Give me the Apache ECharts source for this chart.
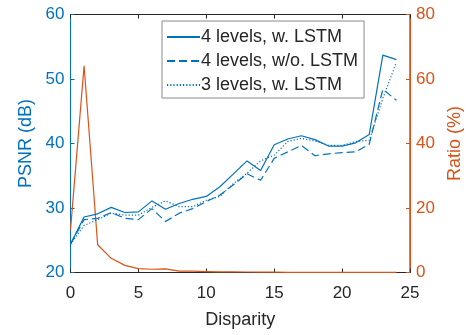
<!DOCTYPE html>
<html>
<head>
<meta charset="utf-8">
<script src="https://cdn.jsdelivr.net/npm/echarts@6/dist/echarts.min.js"></script>
<style>
  html, body { margin: 0; padding: 0; background: #fff; }
  #chart { width: 473px; height: 335px; }
</style>
</head>
<body>
<div id="chart"></div>
<script>
const disparity = [0, 1, 2, 3, 4, 5, 6, 7, 8, 9, 10, 11, 12, 13, 14, 15, 16, 17, 18, 19, 20, 21, 22, 23, 24];

const psnr4Lstm = [24.4, 28.6, 29.1, 30.1, 29.3, 29.4, 31.1, 29.8, 30.7, 31.35, 31.8, 33.3, 35.3, 37.3, 35.8, 39.8, 40.7, 41.2, 40.6, 39.6, 39.6, 40.1, 41.4, 53.7, 53.0];
const psnr4NoLstm = [24.4, 28.2, 28.4, 29.3, 28.4, 28.2, 29.9, 27.9, 29.2, 29.9, 31.0, 32.0, 33.6, 35.3, 34.3, 37.7, 38.7, 39.7, 38.1, 38.4, 38.6, 38.7, 39.9, 48.4, 46.7];
const psnr3Lstm = [24.4, 27.3, 28.2, 29.2, 28.9, 28.9, 30.1, 31.1, 30.2, 30.2, 31.2, 31.8, 33.8, 35.4, 37.3, 38.2, 40.3, 40.8, 40.4, 39.7, 39.7, 40.3, 40.5, 47.0, 52.6];
const ratio = [13.2, 64.1, 8.6, 4.4, 2.2, 1.2, 1.0, 1.1, 0.4, 0.4, 0.3, 0.2, 0.2, 0.15, 0.1, 0.1, 0.05, 0.05, 0.05, 0.05, 0.04, 0.03, 0.03, 0.02, 0.02];

const xTicks = [0, 5, 10, 15, 20, 25];
const psnrTicks = [20, 30, 40, 50, 60];
const ratioTicks = [0, 20, 40, 60, 80];

const blue = "#0072BD";
const orange = "#D95319";
const dark = "#262626";
const font = "'Liberation Sans', Arial, sans-serif";

const pairs = (ys) => disparity.map((d, i) => [d, ys[i]]);

const chart = echarts.init(document.getElementById("chart"));

const option = {
  animation: false,
  textStyle: { fontFamily: font },
  grid: {
    left: 70.5,
    right: 63,
    top: 14.5,
    bottom: 62.5,
    show: true,
    borderColor: dark,
    borderWidth: 1,
  },
  legend: {
    orient: "vertical",
    left: 162,
    top: 21,
    padding: [7, 6, 4, 4],
    itemGap: 6,
    itemWidth: 33,
    itemHeight: 16,
    backgroundColor: "#fff",
    borderColor: "#8a8a8a",
    borderWidth: 1,
    itemStyle: { opacity: 0 },
    textStyle: { fontSize: 18, color: dark, fontFamily: font, padding: [0, 0, 0, -4] },
    data: ["4 levels, w. LSTM", "4 levels, w/o. LSTM", "3 levels, w. LSTM"],
  },
  xAxis: [
    {
      type: "value",
      min: xTicks[0],
      max: xTicks[xTicks.length - 1],
      interval: 5,
      name: "Disparity",
      nameLocation: "middle",
      nameGap: 39,
      nameTextStyle: { fontSize: 18, color: dark },
      axisLine: { onZero: false, lineStyle: { color: dark, width: 1 } },
      axisTick: { inside: true, length: 4, lineStyle: { color: dark } },
      axisLabel: { fontSize: 17, color: dark, margin: 12 },
      splitLine: { show: false },
    },
    {
      type: "value",
      position: "top",
      min: xTicks[0],
      max: xTicks[xTicks.length - 1],
      interval: 5,
      axisLine: { show: true, onZero: false, lineStyle: { color: dark, width: 1 } },
      axisTick: { inside: true, length: 4, lineStyle: { color: dark } },
      axisLabel: { show: false },
      splitLine: { show: false },
    },
  ],
  yAxis: [
    {
      type: "value",
      position: "left",
      min: psnrTicks[0],
      max: psnrTicks[psnrTicks.length - 1],
      interval: 10,
      name: "PSNR (dB)",
      nameLocation: "middle",
      nameGap: 31,
      nameTextStyle: { fontSize: 18, color: blue },
      axisLine: { show: true, onZero: false, lineStyle: { color: blue, width: 1 } },
      axisTick: { show: true, inside: true, length: 4, lineStyle: { color: blue } },
      axisLabel: { fontSize: 17, color: blue, margin: 6 },
      splitLine: { show: false },
    },
    {
      type: "value",
      position: "right",
      min: ratioTicks[0],
      max: ratioTicks[ratioTicks.length - 1],
      interval: 20,
      name: "Ratio (%)",
      nameLocation: "middle",
      nameGap: 28,
      nameTextStyle: { fontSize: 18, color: orange },
      axisLine: { show: true, onZero: false, lineStyle: { color: orange, width: 1 } },
      axisTick: { show: true, inside: true, length: 4, lineStyle: { color: orange } },
      axisLabel: { fontSize: 17, color: orange, margin: 6 },
      splitLine: { show: false },
    },
  ],
  series: [
    {
      name: "4 levels, w. LSTM",
      type: "line",
      yAxisIndex: 0,
      symbol: "none",
      data: pairs(psnr4Lstm),
      lineStyle: { color: blue, width: 1.2 },
      itemStyle: { color: blue },
      z: 3,
    },
    {
      name: "4 levels, w/o. LSTM",
      type: "line",
      yAxisIndex: 0,
      symbol: "none",
      data: pairs(psnr4NoLstm),
      lineStyle: { color: blue, width: 1.2, type: [8, 4] },
      itemStyle: { color: blue },
      z: 3,
    },
    {
      name: "3 levels, w. LSTM",
      type: "line",
      yAxisIndex: 0,
      symbol: "none",
      data: pairs(psnr3Lstm),
      lineStyle: { color: blue, width: 1.2, type: [1.2, 2] },
      itemStyle: { color: blue },
      z: 3,
    },
    {
      name: "Ratio",
      type: "line",
      yAxisIndex: 1,
      symbol: "none",
      data: pairs(ratio),
      lineStyle: { color: orange, width: 1.2 },
      itemStyle: { color: orange },
      z: 2,
    },
  ],
};

chart.setOption(option);
</script>
</body>
</html>
